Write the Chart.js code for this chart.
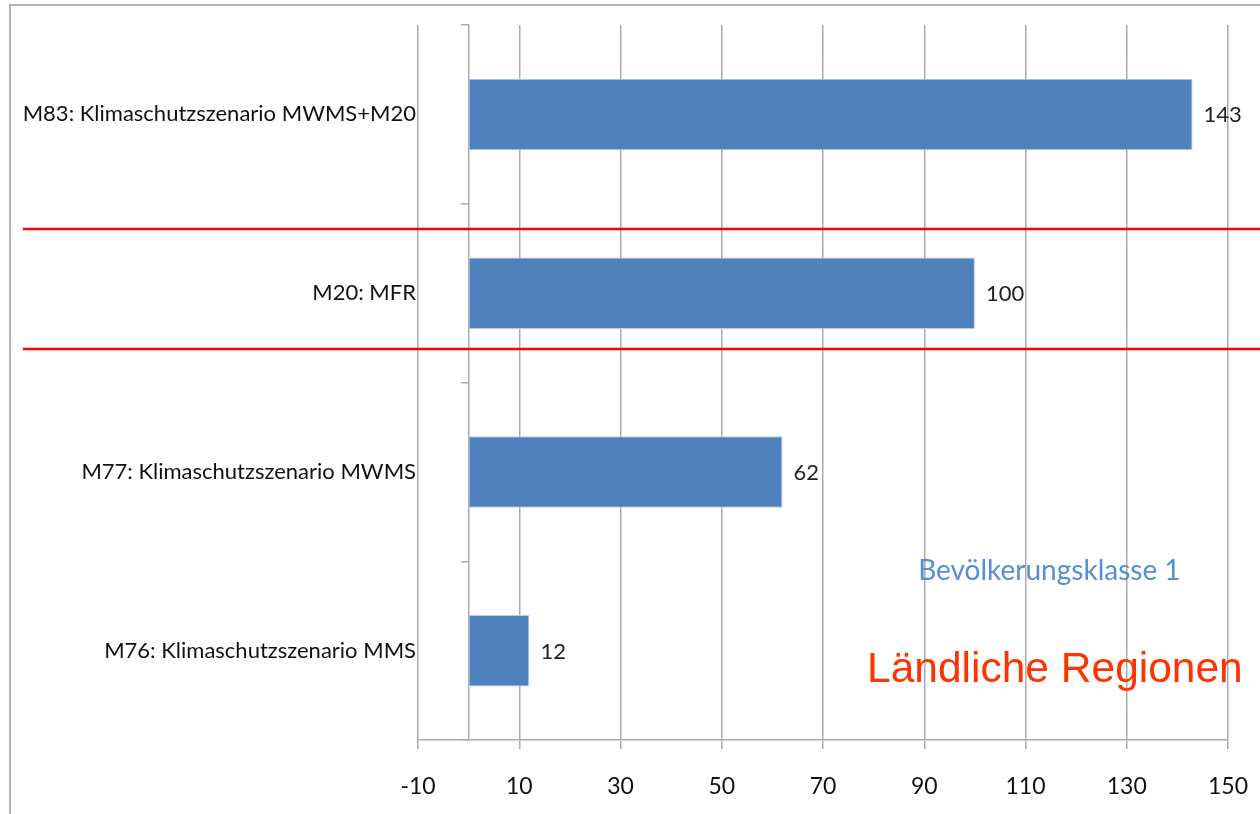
<!DOCTYPE html>
<html>
<head>
<meta charset="utf-8">
<script src="https://cdn.jsdelivr.net/npm/chart.js@4"></script>
<style>
  html, body { margin: 0; padding: 0; background: #fff; }
  #wrap { width: 1260px; height: 814px; }
</style>
</head>
<body>
<div id="wrap"><canvas id="myChart" width="1260" height="814"></canvas></div>
<script>
const scenarios = [
  "M83: Klimaschutzszenario MWMS+M20",
  "M20: MFR",
  "M77: Klimaschutzszenario MWMS",
  "M76: Klimaschutzszenario MMS"
];
const values = [143, 100, 62, 12];
const xTicks = [-10, 10, 30, 50, 70, 90, 110, 130, 150];
// red band around the M20 row, in category index units
const bandEdges = [0.64, 1.31];
const notes = [
  { text: "Bevölkerungsklasse 1", x: 88.8, y: 2.555, font: "28px Lato", color: "#558ed5" },
  { text: "Ländliche Regionen", x: 78.7, y: 3.11, font: "42.5px 'Liberation Sans'", color: "#ff3300" }
];

const gridGrey = "#ababab";

const frame = {
  id: "frame",
  afterDraw(chart) {
    const ctx = chart.ctx;
    ctx.save();
    ctx.strokeStyle = "#b4b4b4";
    ctx.lineWidth = 2;
    ctx.beginPath();
    ctx.moveTo(10, chart.height);
    ctx.lineTo(10, 5);
    ctx.lineTo(chart.width, 5);
    ctx.stroke();
    ctx.restore();
  }
};

const valueLabels = {
  id: "valueLabels",
  afterDatasetsDraw(chart) {
    const ctx = chart.ctx;
    const meta = chart.getDatasetMeta(0);
    ctx.save();
    ctx.font = "22px Lato";
    ctx.fillStyle = "#222";
    ctx.textAlign = "left";
    ctx.textBaseline = "middle";
    meta.data.forEach((bar, i) => {
      ctx.fillText(values[i], bar.x + 11, bar.y + 1);
    });
    ctx.restore();
  }
};

const bandLines = {
  id: "bandLines",
  afterDraw(chart) {
    const ctx = chart.ctx;
    const y = chart.scales.y;
    ctx.save();
    ctx.strokeStyle = "#ff0000";
    ctx.lineWidth = 2.5;
    bandEdges.forEach(v => {
      const py = Math.round(y.getPixelForValue(v));
      ctx.beginPath();
      ctx.moveTo(23, py);
      ctx.lineTo(chart.width, py);
      ctx.stroke();
    });
    ctx.restore();
  }
};

const noteText = {
  id: "noteText",
  afterDraw(chart) {
    const ctx = chart.ctx;
    const x = chart.scales.x, y = chart.scales.y;
    ctx.save();
    ctx.textAlign = "left";
    ctx.textBaseline = "middle";
    notes.forEach(n => {
      ctx.font = n.font;
      ctx.fillStyle = n.color;
      ctx.fillText(n.text, x.getPixelForValue(n.x), y.getPixelForValue(n.y));
    });
    ctx.restore();
  }
};

new Chart(document.getElementById("myChart"), {
  type: "bar",
  data: {
    labels: scenarios,
    datasets: [{
      data: values,
      backgroundColor: "#4f81bd",
      borderColor: "#b9cde5",
      borderWidth: 1,
      borderSkipped: false,
      barPercentage: 0.4,
      categoryPercentage: 1
    }]
  },
  options: {
    indexAxis: "y",
    responsive: false,
    animation: false,
    layout: { padding: { top: 25, right: 32, bottom: 0, left: 0 } },
    plugins: { legend: { display: false }, tooltip: { enabled: false } },
    scales: {
      x: {
        min: -10,
        max: 150,
        afterBuildTicks: s => { s.ticks = xTicks.map(v => ({ value: v })); },
        afterFit: s => { s.height = 74; s.paddingLeft = 0; s.paddingRight = 0; },
        grid: { color: gridGrey, lineWidth: 1.5, tickLength: 9 },
        border: { color: gridGrey, width: 1.5 },
        ticks: { color: "#111", padding: 24, font: { family: "Lato", size: 23 } }
      },
      y: {
        afterFit: s => { s.width = 418; s.paddingTop = 0; s.paddingBottom = 0; },
        grid: { display: false, drawTicks: false },
        border: { display: false },
        ticks: { color: "#111", padding: 2, font: { family: "Lato", size: 22 } }
      },
      yZero: {
        type: "category",
        axis: "y",
        position: { x: 0 },
        afterFit: s => { s.width = 0; },
        grid: { color: gridGrey, lineWidth: 1.5, drawOnChartArea: false, offset: true, tickLength: 7 },
        border: { color: gridGrey, width: 1.5 },
        ticks: { display: false }
      }
    }
  },
  plugins: [frame, valueLabels, bandLines, noteText]
});
</script>
</body>
</html>
